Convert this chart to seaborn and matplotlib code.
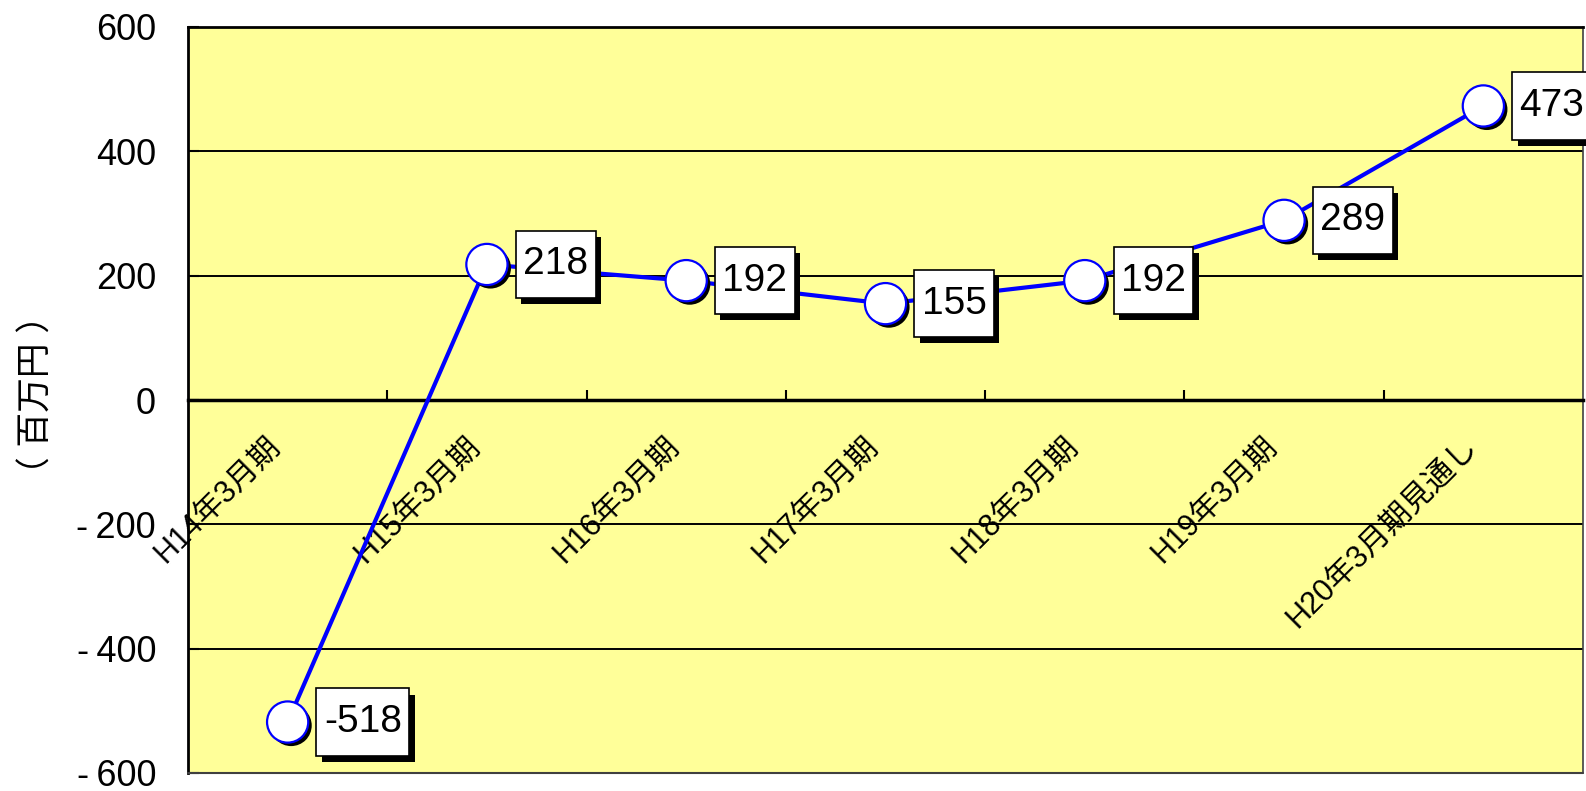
import pandas as pd
import matplotlib.pyplot as plt
import matplotlib.patheffects as pe
from matplotlib.path import Path
from matplotlib.ticker import FixedLocator
import seaborn as sns

# chart values
periods = ["H14年3月期", "H15年3月期", "H16年3月期", "H17年3月期",
           "H18年3月期", "H19年3月期", "H20年3月期見通し"]
profit = [-518, 218, 192, 155, 192, 289, 473]
y_ticks = [-600, -400, -200, 0, 200, 400, 600]
y_label = "（ 百万円 ）"

df = pd.DataFrame({"period": periods, "profit": profit})
df["pos"] = range(len(df))

sns.set_style("white")
plt.rcParams["font.family"] = ["Liberation Sans", "Noto Sans CJK JP"]
plt.rcParams["axes.unicode_minus"] = False
for key in ["text.color", "axes.labelcolor", "xtick.color", "ytick.color"]:
    plt.rcParams[key] = "black"


def label_box(x0, y0, width, height, mutation_size):
    # square box, taller padding than wide padding
    px = 0.19 * mutation_size
    py = 0.40 * mutation_size
    x0, y0 = x0 - px, y0 - py
    x1, y1 = x0 + width + 2 * px, y0 + height + 2 * py
    return Path([(x0, y0), (x1, y0), (x1, y1), (x0, y1), (x0, y0)], closed=True)


def tick_text(v):
    # Excel-style minus with a small gap
    return str(v) if v >= 0 else "-\u2009" + str(abs(v))


fig = plt.figure(figsize=(15.86, 7.91), dpi=100)
ax = fig.add_axes([188 / 1586, 1 - 773 / 791, 1395 / 1586, 746 / 791])
ax.set_facecolor("#FFFF99")

# line, then markers with a drop shadow
sns.lineplot(data=df, x="pos", y="profit", ax=ax, color="#0000FF",
             linewidth=3, zorder=3)
sns.scatterplot(data=df, x="pos", y="profit", ax=ax, s=880, color="white",
                edgecolor="#0000FF", linewidth=1.6, zorder=4)
ax.collections[-1].set_path_effects([
    pe.SimplePatchShadow(offset=(2.5, -2.5), shadow_rgbFace="black", alpha=1),
    pe.Normal(),
])

# value labels in white boxes with shadow
for x, v in zip(df["pos"], df["profit"]):
    t = ax.annotate(str(v), (x, v), xytext=(26, 0), textcoords="offset points",
                    ha="left", va="center", fontsize=28, zorder=5,
                    bbox=dict(boxstyle=label_box, fc="white",
                              ec="black", lw=1.2))
    t.get_bbox_patch().set_path_effects([
        pe.SimplePatchShadow(offset=(4, -4.5), shadow_rgbFace="black", alpha=1),
        pe.Normal(),
    ])

ax.set_xlim(-0.5, len(periods) - 0.5)
ax.set_ylim(-600, 600)
ax.set_yticks(y_ticks)
ax.set_yticklabels([tick_text(v) for v in y_ticks], fontsize=26)
ax.yaxis.grid(True, color="black", linewidth=1.4)
ax.set_axisbelow(True)

# category axis sits on the zero line
ax.spines["bottom"].set_position(("data", 0))
ax.spines["bottom"].set_linewidth(2.5)
ax.spines["bottom"].set_color("black")
ax.spines["top"].set_linewidth(2)
ax.spines["top"].set_color("black")
ax.spines["left"].set_linewidth(2)
ax.spines["left"].set_color("black")
ax.spines["right"].set_linewidth(1.2)
ax.spines["right"].set_color("#404040")
ax.axhline(-600, color="#404040", linewidth=1.5, clip_on=False, zorder=2.6)

ax.set_xticks(df["pos"])
ax.set_xticklabels(periods, fontsize=22)
ax.xaxis.set_minor_locator(FixedLocator([p + 0.5 for p in df["pos"][:-1]]))
ax.tick_params(axis="x", which="major", length=0, pad=38)
ax.tick_params(axis="x", which="minor", direction="in", length=7,
               width=1.5, color="black", bottom=True)
ax.tick_params(axis="y", direction="in", length=8, width=1.5, color="black",
               left=True, pad=23)
plt.setp(ax.get_xticklabels(), rotation=45, ha="right", va="bottom",
         rotation_mode="anchor")

ax.set_xlabel("")
ax.set_ylabel("")
fig.text(37 / 1586, 1 - 395 / 791, y_label, rotation=90, fontsize=25,
         ha="center", va="center")

fig.savefig("out.png", dpi=100, facecolor="white")
plt.close(fig)
